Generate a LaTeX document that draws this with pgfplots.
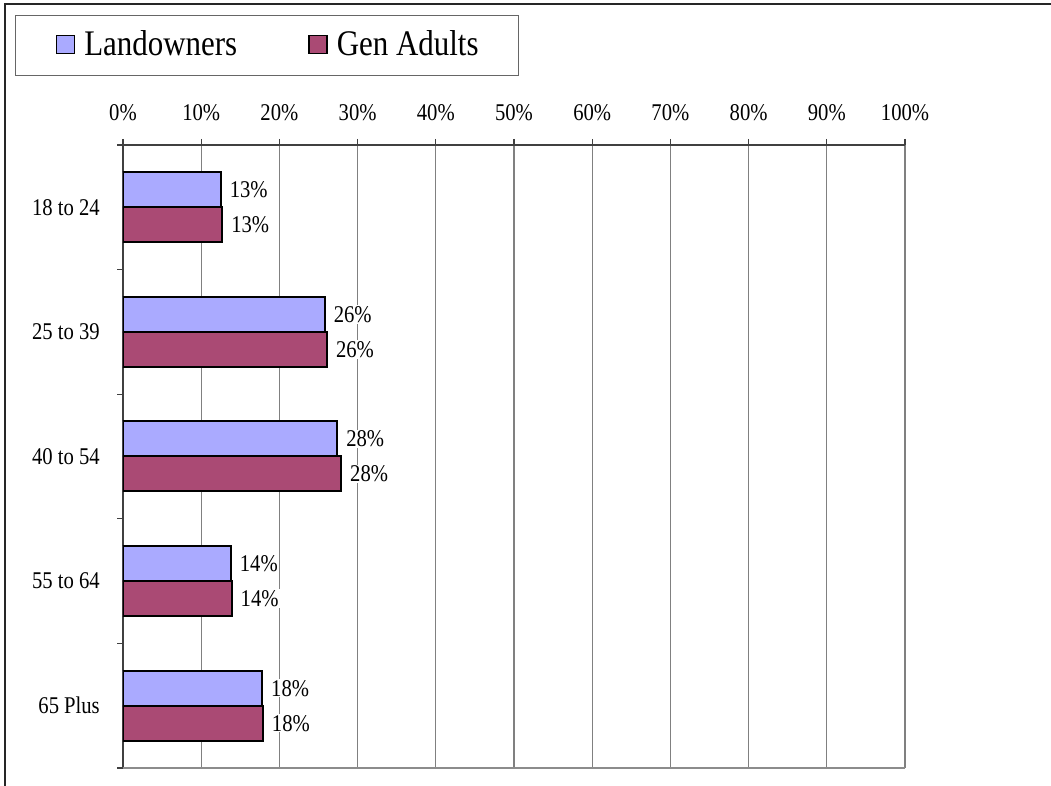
\documentclass[border=0pt]{standalone}
\usepackage{fontspec}
\setmainfont{Liberation Serif}[FakeStretch=0.86]
\usepackage{pgfplots}
\pgfplotsset{compat=1.18}
\definecolor{landc}{HTML}{AAAAFF}
\definecolor{genc}{HTML}{AA4A74}
\pgfplotstableread{
c v l
4 12.5 13
3 25.8 26
2 27.4 28
1 13.8 14
0 17.8 18
}\landtab
\pgfplotstableread{
c v l
4 12.7 13
3 26.1 26
2 27.9 28
1 13.9 14
0 17.9 18
}\gentab
\begin{document}
\begin{tikzpicture}[x=1pt,y=1pt]
\path[use as bounding box] (0,0) rectangle (1051,786);
\draw[line width=2pt, black!85] (5,0) -- (5,782) -- (1051,782);
\begin{axis}[
  at={(123pt,18pt)}, anchor=south west,
  scale only axis, width=782pt, height=623pt,
  xmin=0, xmax=100, ymin=-0.5, ymax=4.5,
  axis x line*=top, axis y line*=left,
  axis line style={black!75, line width=1.8pt},
  xtick={0,10,...,100},
  xticklabels={0\%,10\%,20\%,30\%,40\%,50\%,60\%,70\%,80\%,90\%,100\%},
  ytick={0,1,2,3,4},
  yticklabels={65 Plus,55 to 64,40 to 54,25 to 39,18 to 24},
  minor ytick={-0.5,0.5,1.5,2.5,3.5,4.5},
  tick align=outside, major tick length=6pt, minor tick length=6pt,
  tick style={black!75, line width=1.2pt},
  ytick style={/pgfplots/major tick length=0pt},
  tick label style={font=\fontsize{24}{28}\selectfont, text=black},
  xticklabel style={anchor=base, inner sep=0pt, yshift=18pt},
  yticklabel style={anchor=east, inner sep=0pt, xshift=-17pt},
  xmajorgrids=true,
  major grid style={black!50, line width=1.2pt},
  legend columns=2,
  legend style={at={(-0.1381,1.2087)}, anchor=north west, draw=black!60, line width=1.5pt,
    inner xsep=40pt, inner ysep=15pt,
    font=\fontsize{36}{40}\selectfont,
    nodes={inner sep=0pt, text depth=5pt},
    cells={anchor=base west},
    /tikz/every odd column/.append style={column sep=9pt},
    /tikz/every even column/.append style={column sep=71pt}},
  after end axis/.code={\draw[black!45, line width=1.5pt] (rel axis cs:0,0) -- (rel axis cs:1,0);},
]
\addplot[xbar, bar width=35pt, bar shift=17.5pt, fill=landc, draw=black, line width=2pt,
  point meta=explicit symbolic,
  nodes near coords={\pgfplotspointmeta\%},
  nodes near coords style={anchor=west, fill=white, inner sep=1pt, xshift=7pt, yshift=17.5pt, text=black, font=\fontsize{24}{28}\selectfont},
  legend image code/.code={\draw[fill=landc, draw=black, line width=1.5pt] (0pt,2pt) rectangle (18pt,20pt);}]
  table[x=v, y=c, meta=l] {\landtab};
\addlegendentry{Landowners}
\addplot[xbar, bar width=35pt, bar shift=-17.5pt, fill=genc, draw=black, line width=2pt,
  point meta=explicit symbolic,
  nodes near coords={\pgfplotspointmeta\%},
  nodes near coords style={anchor=west, fill=white, inner sep=1pt, xshift=7pt, yshift=-17.5pt, text=black, font=\fontsize{24}{28}\selectfont},
  legend image code/.code={\draw[fill=genc, draw=black, line width=1.5pt] (0pt,2pt) rectangle (18pt,20pt);}]
  table[x=v, y=c, meta=l] {\gentab};
\addlegendentry{Gen Adults}
\end{axis}
\end{tikzpicture}
\end{document}
